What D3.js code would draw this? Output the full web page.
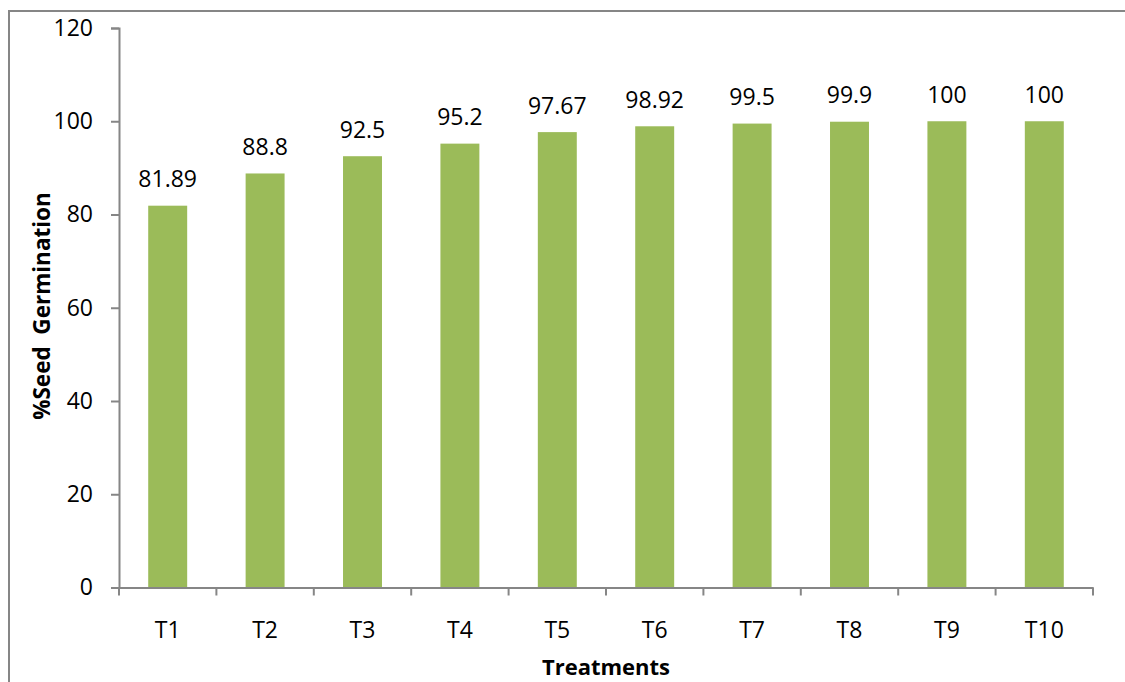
<!DOCTYPE html>
<html><head><meta charset="utf-8">
<script src="https://cdn.jsdelivr.net/npm/d3@7"></script>
<style>body{margin:0;background:#fff}svg{display:block}text{font-family:"Open Sans",sans-serif}</style>
</head><body>
<svg id="c" width="1125" height="682"></svg>
<script>
const categories = ["T1","T2","T3","T4","T5","T6","T7","T8","T9","T10"];
const values = [81.89, 88.8, 92.5, 95.2, 97.67, 98.92, 99.5, 99.9, 100, 100];
const valueLabels = ["81.89","88.8","92.5","95.2","97.67","98.92","99.5","99.9","100","100"];
const yTicks = [0,20,40,60,80,100,120];

const FONT = "'Open Sans',sans-serif";
const svg = d3.select("#c");
const gray = "#868686";
svg.append("rect").attr("x",9).attr("y",11).attr("width",1130).attr("height",690)
  .attr("fill","none").attr("stroke",gray).attr("stroke-width",2);

const x0 = 119, x1 = 1093, yTop = 28, yBot = 587.5;
const x = d3.scaleBand().domain(categories).range([x0,x1]).padding(0);
const y = d3.scaleLinear().domain([0,120]).range([yBot,yTop]);

const bw = x.bandwidth()*0.4;
svg.append("g").selectAll("rect").data(categories).join("rect")
  .attr("x",(d)=>x(d)+x.bandwidth()/2-bw/2)
  .attr("width",bw)
  .attr("y",(d,i)=>y(values[i]))
  .attr("height",(d,i)=>y(0)-y(values[i]))
  .attr("fill","#9BBB59");

svg.append("g").selectAll("text").data(categories).join("text")
  .attr("x",d=>x(d)+x.bandwidth()/2)
  .attr("y",(d,i)=>y(values[i])-18.5)
  .attr("text-anchor","middle").attr("font-size",23).attr("fill","#000")
  .text((d,i)=>valueLabels[i]);

// y axis
const ya = svg.append("g").attr("transform",`translate(${x0},0)`)
  .call(d3.axisLeft(y).tickValues(yTicks).tickSize(8).tickPadding(18));
ya.select(".domain").attr("stroke",gray).attr("stroke-width",2);
ya.selectAll(".tick line").attr("stroke",gray).attr("stroke-width",2);
ya.selectAll(".tick text").attr("font-size",23).attr("fill","#000").attr("font-family",FONT);

// x axis
const xa = svg.append("g").attr("transform",`translate(0,${yBot})`)
  .call(d3.axisBottom(x).tickSize(0));
xa.select(".domain").attr("stroke",gray).attr("stroke-width",2);
xa.selectAll(".tick text").attr("font-size",23).attr("fill","#000").attr("font-family",FONT)
  .attr("y",50.5).attr("dy",0);
const bounds = categories.map(d=>x(d)).concat([x1]);
xa.selectAll("line.b").data(bounds).join("line").attr("class","b")
  .attr("x1",d=>d).attr("x2",d=>d).attr("y1",0).attr("y2",8)
  .attr("stroke",gray).attr("stroke-width",2);

svg.append("text").attr("x",606).attr("y",675).attr("text-anchor","middle")
  .attr("font-size",22).attr("font-weight","bold").text("Treatments");
svg.append("text").attr("transform","translate(49.5,306) rotate(-90)").attr("text-anchor","middle")
  .attr("font-size",22.5).attr("font-weight","bold").attr("xml:space","preserve").text("%Seed  Germination");
</script>
</body></html>
